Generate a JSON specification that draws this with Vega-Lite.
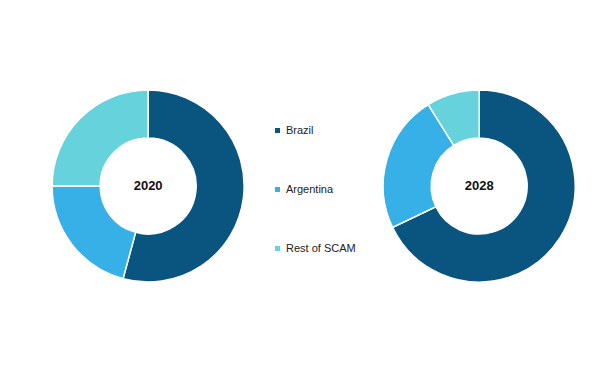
{
  "$schema": "https://vega.github.io/schema/vega-lite/v6.json",
  "width": 600,
  "height": 360,
  "autosize": {"type": "none"},
  "padding": {"top": 6, "bottom": 0, "left": 0, "right": 0},
  "background": "white",
  "config": {"view": {"stroke": null}},
  "data": {
    "values": [
      {"year": 2020, "region": "Brazil", "order": 1, "share": 54.2},
      {"year": 2020, "region": "Argentina", "order": 2, "share": 20.8},
      {"year": 2020, "region": "Rest of SCAM", "order": 3, "share": 25.0},
      {"year": 2028, "region": "Brazil", "order": 1, "share": 67.9},
      {"year": 2028, "region": "Argentina", "order": 2, "share": 23.2},
      {"year": 2028, "region": "Rest of SCAM", "order": 3, "share": 8.9}
    ]
  },
  "transform": [
    {"stack": "share", "groupby": ["year"], "sort": [{"field": "order", "order": "ascending"}], "as": ["s0", "s1"]}
  ],
  "layer": [
    {
      "mark": {"type": "arc", "innerRadius": 48, "outerRadius": 96, "stroke": "white", "strokeWidth": 1.5},
      "encoding": {
        "x": {"field": "year", "type": "quantitative", "stack": null, "scale": {"domain": [2016.42, 2030.92]}, "axis": null},
        "theta": {"field": "s0", "type": "quantitative", "stack": null, "scale": {"domain": [0, 100]}},
        "theta2": {"field": "s1"},
        "color": {
          "field": "region",
          "type": "nominal",
          "scale": {"domain": ["Brazil", "Argentina", "Rest of SCAM"], "range": ["#0a5480", "#36b0e6", "#66d2dc"]},
          "legend": {
            "orient": "none",
            "legendX": 272,
            "legendY": 119,
            "title": null,
            "symbolType": "square",
            "symbolSize": 25,
            "symbolStrokeWidth": 0,
            "labelFontSize": 11,
            "labelFont": "Liberation Sans",
            "labelColor": "#222222",
            "labelOffset": 3,
            "rowPadding": 47
          }
        }
      }
    },
    {
      "transform": [{"filter": {"field": "order", "equal": 1}}],
      "mark": {"type": "text", "fontWeight": "bold", "fontSize": 13, "font": "Liberation Sans", "color": "#111111"},
      "encoding": {
        "x": {"field": "year", "type": "quantitative", "stack": null, "scale": {"domain": [2016.42, 2030.92]}, "axis": null},
        "text": {"field": "year", "type": "nominal"}
      }
    }
  ]
}
